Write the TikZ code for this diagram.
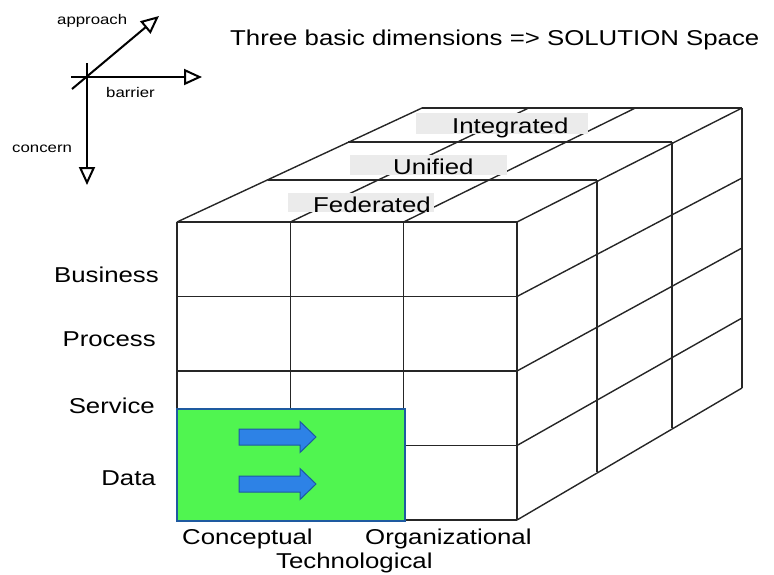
\documentclass[tikz,border=0pt]{standalone}
\usepackage{fontspec}
\setmainfont{Liberation Sans}[FakeStretch=1.2]
\usepackage{xcolor}
\usepackage{tikz}
\usetikzlibrary{arrows.meta}
\definecolor{cellgreen}{RGB}{80, 245, 80}
\definecolor{arrowblue}{RGB}{45, 130, 230}
\definecolor{edgeblue}{RGB}{30, 90, 160}
\definecolor{tagsilver}{RGB}{235, 235, 235}

\begin{document}
\begin{tikzpicture}[x=1pt, y=-1pt,
            grid/.style = {
                draw=black!85,
                line width=1.4pt,
                },
            axis/.style = {
                line width=2pt,
                -{Triangle[open, length=18pt, width=16pt]},
                },
            dim/.style = {
                inner sep=0pt,
                font=\fontsize{21.5}{24}\selectfont,
                },
            small/.style = {
                inner sep=0pt,
                font=\fontsize{14}{16}\selectfont,
                },
            tag/.style = {
                fill=tagsilver,
                inner sep=0pt,
                anchor=north west,
                },
            block/.style = {
                fill=arrowblue,
                draw=edgeblue,
                line width=1pt,
                }]
            \useasboundingbox (0,0) rectangle (774,574);

            % layers of the cube: left, top, width, height
            \foreach \k/\l/\t/\w/\h in {0/177/222/340/298, 1/268/180/329/292, 2/348/142/324/286, 3/422/108/320/280}
                \foreach \i in {0,...,3}
                    \foreach \j in {0,...,4}
                        \coordinate (p-\k-\i-\j) at ({\l+\i*\w/3}, {\t+\j*\h/4});

            \foreach \j in {0,...,4} \draw[grid] (p-0-0-\j) -- (p-0-3-\j);
            \foreach \i in {0,...,3} \draw[grid] (p-0-\i-0) -- (p-0-\i-4);
            \foreach \k in {1,2,3} {
                \draw[grid] (p-\k-0-0) -- (p-\k-3-0);
                \draw[grid] (p-\k-3-0) -- (p-\k-3-4);
            }
            \foreach \i in {0,...,3} \draw[grid] (p-0-\i-0) -- (p-3-\i-0);
            \foreach \j in {1,...,4} \draw[grid] (p-0-3-\j) -- (p-3-3-\j);

            % levels on top
            \node[tag, minimum width=146pt, minimum height=19pt] (fed-box) at (288,193) {};
            \node[tag, minimum width=157pt, minimum height=20pt] (uni-box) at (350,155) {};
            \node[tag, minimum width=172pt, minimum height=21pt] (int-box) at (416,113) {};
            \node[dim, anchor=base west] (fed) at (313,212) {Federated};
            \node[dim, anchor=base west] (uni) at (393,174) {Unified};
            \node[dim, anchor=base west] (int) at (452,133) {Integrated};

            \draw[fill=cellgreen, draw=edgeblue, line width=2pt] (177,409) rectangle (405,521);
            \foreach \y in {437,484}
                \draw[block] (239,\y-8) -- (300,\y-8) -- (300,\y-15.5) -- (316,\y)
                    -- (300,\y+15.5) -- (300,\y+8) -- (239,\y+8) -- cycle;

            \node[dim, anchor=base east] (business) at (159,282) {Business};
            \node[dim, anchor=base east] (process) at (156,346) {Process};
            \node[dim, anchor=base east] (service) at (155,413) {Service};
            \node[dim, anchor=base east] (data) at (156,485) {Data};
            \node[dim, anchor=base west] (conceptual) at (182,544) {Conceptual};
            \node[dim, anchor=base west] (organizational) at (365,544) {Organizational};
            \node[dim, anchor=base west] (technological) at (276,568) {Technological};
            \node[dim, anchor=base west] (title) at (230,45) {Three basic dimensions => SOLUTION Space};

            % the three axes
            \coordinate (bar-start) at (71,77);
            \coordinate (bar-end) at (202,77);
            \coordinate (con-start) at (87,63);
            \coordinate (con-end) at (87,185);
            \coordinate (app-start) at (72,89);
            \coordinate (app-end) at (159,16);
            \draw[axis] (bar-start) -- (bar-end);
            \draw[axis] (con-start) -- (con-end);
            \draw[axis] (app-start) -- (app-end);
            \node[small, anchor=base west] (approach) at (57,24) {approach};
            \node[small, anchor=base west] (barrier) at (106,97) {barrier};
            \node[small, anchor=base west] (concern) at (12,152) {concern};
        \end{tikzpicture}
\end{document}
